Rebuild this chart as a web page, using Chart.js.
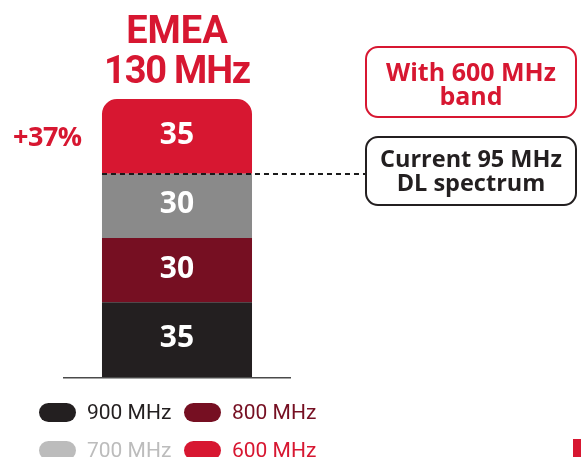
<!DOCTYPE html>
<html>
<head>
<meta charset="utf-8">
<script src="https://cdn.jsdelivr.net/npm/chart.js@4.4.1/dist/chart.umd.min.js"></script>
<style>
  html, body { margin: 0; padding: 0; background: #fff; }
  #wrap { position: relative; width: 581px; height: 457px; overflow: hidden; font-family: Roboto, "Liberation Sans", sans-serif; }
  #bandChart { position: absolute; left: 0; top: 0; }
  .abs { position: absolute; white-space: nowrap; }
  .title { left: 77px; width: 200px; top: 10px; text-align: center; color: #d71731; font-weight: 700; font-size: 38px; line-height: 40px; }
  .title span { letter-spacing: -1.2px; }
  .growth { left: 13px; top: 121px; color: #d71731; font-family: "Open Sans", sans-serif; font-weight: 700; font-size: 27px; line-height: 30px; letter-spacing: -0.5px; }
  .box { left: 365px; width: 212px; box-sizing: border-box; border: 2px solid; border-radius: 13px; background: #fff; }
  .boxText { left: 365px; width: 212px; text-align: center; font-family: "Open Sans", sans-serif; font-weight: 700; }
  .val { color: #fff; font-family: "Open Sans", sans-serif; font-weight: 700; font-size: 30px; line-height: 30px; text-align: center; width: 100px; }
  .sw { width: 37px; height: 19px; border-radius: 10px; }
  .lg { font-size: 21px; line-height: 24px; }
</style>
</head>
<body>
<div id="wrap">
  <canvas id="bandChart" width="581" height="457"></canvas>

  <div class="abs title">EMEA<br><span>130 MHz</span></div>
  <div class="abs growth">+37%</div>

  <div class="abs box" style="top:46px;height:72px;border-color:#d71731;"></div>
  <div class="abs boxText" style="top:59px;color:#d71731;font-size:25px;line-height:24px;">With 600 MHz<br>band</div>

  <div class="abs box" style="top:136px;height:70px;border-color:#231f20;"></div>
  <div class="abs boxText" style="top:146px;color:#231f20;font-size:23.5px;line-height:24px;">Current 95 MHz<br>DL spectrum</div>

  <div id="legend"></div>
  <div class="abs" style="left:573px;top:439px;width:8px;height:18px;background:#d71731;"></div>
</div>

<script>
// Data
const bands = ['900 MHz', '800 MHz', '700 MHz', '600 MHz'];
const bandValues = [35, 30, 30, 35];
const barColors = ['#231f20', '#760f22', '#8a8a8a', '#d71731'];
const legendColors = ['#231f20', '#760f22', '#bcbcbc', '#d71731'];
const currentTotal = 95;   // without the 600 MHz band
const axisMax = 130;

const datasets = bands.map((b, i) => ({
    label: b,
    data: [bandValues[i]],
    backgroundColor: barColors[i],
    borderWidth: 0,
    borderRadius: i === bands.length - 1 ? { topLeft: 15, topRight: 15 } : 0,
    borderSkipped: false,
    barPercentage: 0.658,
    categoryPercentage: 1
}));

// baseline + dashed marker at the current spectrum level
const extras = {
    id: 'extras',
    afterDatasetsDraw(chart) {
        const ctx = chart.ctx;
        const y = chart.scales.y;
        const bar = chart.getDatasetMeta(0).data[0];
        const left = bar.x - bar.width / 2;

        ctx.save();
        ctx.strokeStyle = '#1a1a1a';
        ctx.lineWidth = 1.8;
        ctx.setLineDash([5, 4]);
        const yy = Math.round(y.getPixelForValue(currentTotal));
        ctx.beginPath();
        ctx.moveTo(left, yy);
        ctx.lineTo(366, yy);
        ctx.stroke();

        ctx.setLineDash([]);
        ctx.strokeStyle = '#4a4a4a';
        ctx.lineWidth = 1.5;
        const y0 = y.getPixelForValue(0) + 0.75;
        ctx.beginPath();
        ctx.moveTo(chart.chartArea.left, y0);
        ctx.lineTo(chart.chartArea.right, y0);
        ctx.stroke();
        ctx.restore();
    }
};

const chart = new Chart(document.getElementById('bandChart'), {
    type: 'bar',
    data: { labels: ['EMEA'], datasets: datasets },
    options: {
        responsive: false,
        animation: false,
        events: [],
        layout: { padding: { left: 63, right: 290, top: 99, bottom: 80 } },
        plugins: { legend: { display: false }, tooltip: { enabled: false } },
        scales: {
            x: { stacked: true, display: false },
            y: { stacked: true, display: false, min: 0, max: axisMax }
        }
    },
    plugins: [extras]
});

// value labels placed from the bar elements
const wrap = document.getElementById('wrap');
bands.forEach((b, i) => {
    const el = chart.getDatasetMeta(i).data[0];
    const cy = (el.y + el.base) / 2;
    const d = document.createElement('div');
    d.className = 'abs val';
    d.textContent = bandValues[i];
    d.style.left = (el.x - 50) + 'px';
    d.style.top = (cy - 18.5) + 'px';
    wrap.appendChild(d);
});

// legend, 2 x 2
const legendPos = [[39, 403], [184, 403], [39, 441], [184, 441]];
const legend = document.getElementById('legend');
bands.forEach((b, i) => {
    const [lx, ly] = legendPos[i];
    const sw = document.createElement('div');
    sw.className = 'abs sw';
    sw.style.left = lx + 'px';
    sw.style.top = ly + 'px';
    sw.style.background = legendColors[i];
    legend.appendChild(sw);
    const t = document.createElement('div');
    t.className = 'abs lg';
    t.style.left = (lx + 48) + 'px';
    t.style.top = (ly - 3) + 'px';
    t.style.color = legendColors[i];
    t.textContent = b;
    legend.appendChild(t);
});
</script>
</body>
</html>
